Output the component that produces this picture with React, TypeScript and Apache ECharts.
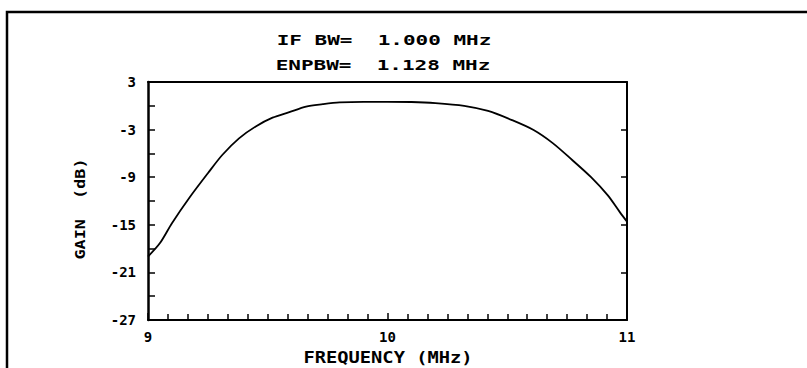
import React, { useEffect, useRef } from "react";
import * as echarts from "echarts";

const freqMHz = [9.0, 9.05, 9.1, 9.175, 9.25, 9.31, 9.38, 9.45, 9.52, 9.59, 9.66, 9.73, 9.8, 9.9, 10.0, 10.1, 10.2, 10.32, 10.42, 10.52, 10.61, 10.69, 10.77, 10.85, 10.92, 10.97, 11.0];
const gainDb = [-19.0, -17.3, -14.8, -11.5, -8.5, -6.2, -4.1, -2.6, -1.5, -0.8, -0.1, 0.2, 0.42, 0.5, 0.5, 0.48, 0.35, 0.0, -0.65, -1.8, -3.05, -4.7, -6.8, -9.0, -11.3, -13.4, -14.6];
const yLabelValues = [3, -3, -9, -15, -21, -27];
const rightTickValues = [-3, -9, -15, -21];
const titleLines = ["IF BW=  1.000 MHz", "ENPBW=  1.128 MHz"];
const xName = "FREQUENCY (MHz)";
const yName = "GAIN  (dB)";

const FONT = "DejaVu Sans Mono";

export default function App() {
  const ref = useRef<HTMLDivElement>(null);
  useEffect(() => {
    document.body.style.margin = "0";
    if (!ref.current) return;
    const chart = echarts.init(ref.current, null, { renderer: "svg" });
    const labelSet = new Set(yLabelValues);
    chart.setOption({
      animation: false,
      backgroundColor: "#ffffff",
      grid: { left: 148, right: 180, top: 82, bottom: 48 },
      xAxis: [
        {
          type: "value",
          min: 9,
          max: 11,
          interval: 1,
          position: "bottom",
          axisLine: { show: true, onZero: false, lineStyle: { color: "#000", width: 2 } },
          axisTick: { show: true, inside: true, length: 7, lineStyle: { color: "#000", width: 1.5 } },
          minorTick: { show: true, splitNumber: 12, length: 6, lineStyle: { color: "#000", width: 1.5 } },
          axisLabel: { color: "#000", fontFamily: FONT, fontWeight: "bold", fontSize: 14, margin: 10 },
          splitLine: { show: false },
        },
        {
          type: "value",
          min: 9,
          max: 11,
          position: "top",
          axisLine: { show: true, onZero: false, lineStyle: { color: "#000", width: 2 } },
          axisTick: { show: false },
          axisLabel: { show: false },
          splitLine: { show: false },
        },
      ],
      yAxis: [
        {
          type: "value",
          min: -27,
          max: 3,
          interval: 3,
          position: "left",
          axisLine: { show: true, onZero: false, lineStyle: { color: "#000", width: 2.5 } },
          axisTick: { show: true, inside: true, length: 7, lineStyle: { color: "#000", width: 1.5 } },
          axisLabel: {
            color: "#000",
            fontFamily: FONT,
            fontWeight: "bold",
            fontSize: 14,
            margin: 12,
            formatter: (v: number) => (labelSet.has(Math.round(v)) ? String(Math.round(v)) : ""),
          },
          splitLine: { show: false },
        },
        {
          type: "value",
          min: -27,
          max: 3,
          interval: 3,
          position: "right",
          axisLine: { show: true, onZero: false, lineStyle: { color: "#000", width: 2 } },
          axisTick: {
            show: true,
            inside: true,
            length: 6,
            customValues: rightTickValues,
            lineStyle: { color: "#000", width: 1.5 },
          },
          axisLabel: { show: false },
          splitLine: { show: false },
        },
      ],
      graphic: [
        {
          type: "rect",
          shape: { x: 7, y: 12, width: 830, height: 420 },
          style: { fill: "none", stroke: "#000", lineWidth: 2.5 },
          silent: true,
        },
        {
          type: "text",
          x: 384,
          y: 40,
          scaleX: 1.5,
          style: {
            text: titleLines[0],
            fill: "#000",
            font: `bold 14px "${FONT}"`,
            align: "center",
            verticalAlign: "middle",
          },
        },
        {
          type: "text",
          x: 383,
          y: 65,
          scaleX: 1.5,
          style: {
            text: titleLines[1],
            fill: "#000",
            font: `bold 14px "${FONT}"`,
            align: "center",
            verticalAlign: "middle",
          },
        },
        {
          type: "text",
          x: 388,
          y: 358,
          scaleX: 1.25,
          style: {
            text: xName,
            fill: "#000",
            font: `bold 15px "${FONT}"`,
            align: "center",
            verticalAlign: "middle",
          },
        },
        {
          type: "text",
          x: 80,
          y: 209,
          rotation: Math.PI / 2,
          scaleX: 1.2,
          style: {
            text: yName,
            fill: "#000",
            font: `bold 14px "${FONT}"`,
            align: "center",
            verticalAlign: "middle",
          },
        },
      ],
      series: [
        {
          type: "line",
          xAxisIndex: 0,
          yAxisIndex: 0,
          data: freqMHz.map((f, i) => [f, gainDb[i]]),
          smooth: 0.3,
          showSymbol: false,
          lineStyle: { color: "#000", width: 1.8 },
        },
      ],
    });
    return () => chart.dispose();
  }, []);
  return <div ref={ref} style={{ width: 807, height: 368 }} />;
}
